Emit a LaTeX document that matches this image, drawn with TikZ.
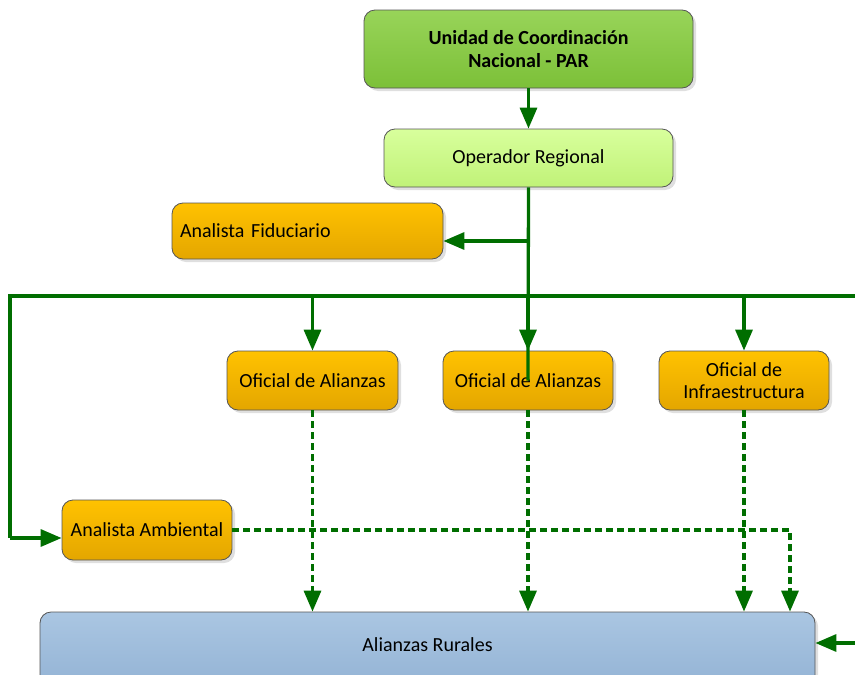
\documentclass[tikz,border=0pt]{standalone}
\usepackage{fontspec}
\setmainfont{Carlito}
\usetikzlibrary{arrows.meta,shadows,calc}
\definecolor{lnk}{RGB}{0,110,0}
\definecolor{bordc}{RGB}{85,85,85}
\tikzset{
  box/.style={draw=bordc, line width=0.8pt, rounded corners=11pt, align=center, font=\fontsize{20}{24}\selectfont, inner sep=0pt,
    drop shadow={shadow xshift=3pt, shadow yshift=-3pt, opacity=0.25, fill=gray}},
  greenbox/.style={box, top color={rgb,255:red,152;green,212;blue,89}, bottom color={rgb,255:red,124;green,192;blue,56}},
  lightbox/.style={box, top color={rgb,255:red,216;green,255;blue,156}, bottom color={rgb,255:red,192;green,242;blue,120}},
  orangebox/.style={box, top color={rgb,255:red,255;green,194;blue,0}, bottom color={rgb,255:red,228;green,166;blue,0}},
  bluebox/.style={box, top color={rgb,255:red,170;green,198;blue,226}, bottom color={rgb,255:red,146;green,178;blue,212}},
  conn/.style={draw=lnk, line width=3.3pt},
  arr/.style={conn, -{Triangle[length=21pt,width=17pt]}},
  darr/.style={arr, dash pattern=on 7pt off 4pt}
}
\begin{document}
\begin{tikzpicture}[x=1pt,y=-1pt]
\useasboundingbox (0,0) rectangle (855,675);
\clip (0,0) rectangle (855,675);
\node[greenbox, minimum width=329pt, minimum height=78pt, font=\fontsize{20}{23}\selectfont\bfseries] (unidad) at (528.5,49) {Unidad de Coordinación\\Nacional - PAR};
\node[lightbox, minimum width=289pt, minimum height=58pt] (operador) at (528.5,158) {Operador Regional};
\node[orangebox, minimum width=271pt, minimum height=56pt, text width=255pt, align=left] (fiduciario) at (307.5,231) {Analista Fiduciario};
\node[orangebox, minimum width=171pt, minimum height=59pt] (of1) at (312.5,380.5) {Oficial de Alianzas};
\node[orangebox, minimum width=170pt, minimum height=59pt] (of2) at (528,380.5) {Oficial de Alianzas};
\node[orangebox, minimum width=170pt, minimum height=59pt, font=\fontsize{20}{22}\selectfont] (ofi) at (744,380.5) {Oficial de\\Infraestructura};
\node[orangebox, minimum width=170pt, minimum height=60pt] (ambiental) at (147,530) {Analista Ambiental};
\node[bluebox, minimum width=775pt, minimum height=80pt, label={[font=\fontsize{20}{24}\selectfont, yshift=7pt]center:Alianzas Rurales}] (rurales) at (427.5,652) {};

\coordinate (busL) at (10,296);
\coordinate (busR) at (860,296);
\coordinate (fidJ) at (528,241);
\coordinate (ambC) at (10,538);
\coordinate (ambT) at ($(ambiental.west)+(0,8)$);
\coordinate (rurR) at (860,643);
\coordinate (rurT) at (rurales.east |- rurR);
\coordinate (dashC) at (790,530);

% solid connectors
\draw[arr] (unidad.south) -- (operador.north);
\draw[arr] (fidJ) -- (fidJ -| fiduciario.east);
\draw[conn] (busR) -- (busL) -- (ambC);
\draw[arr] (ambC) -- (ambT);
\draw[arr] (of1.north |- busL) -- (of1.north);
\draw[arr] (of2.north |- busL) -- (of2.north);
\draw[arr] (ofi.north |- busL) -- (ofi.north);
\draw[arr] (rurR) -- (rurT);
\draw[conn] (operador.south) -- (of2.center);

% dashed connectors
\draw[darr] (of1.south) -- (of1.south |- rurales.north);
\draw[darr] (of2.south) -- (of2.south |- rurales.north);
\draw[darr] (ofi.south) -- (ofi.south |- rurales.north);
\draw[darr] (ambiental.east) -- (dashC) -- (dashC |- rurales.north);
\end{tikzpicture}
\end{document}
